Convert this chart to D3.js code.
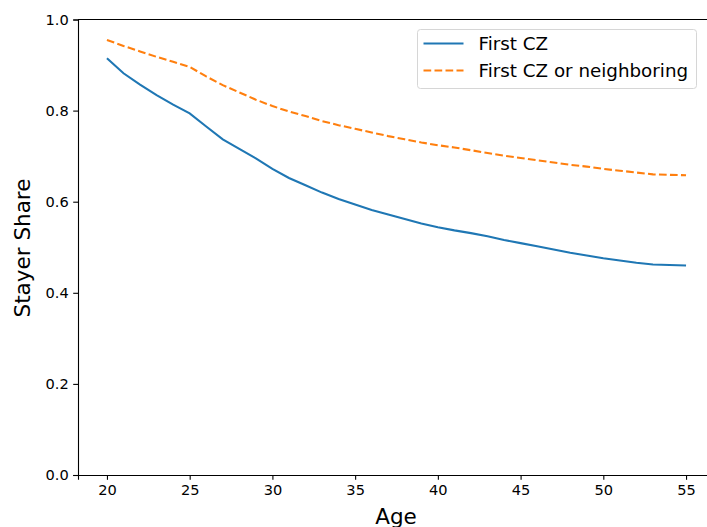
<!DOCTYPE html>
<html>
<head>
<meta charset="utf-8">
<script src="https://cdn.jsdelivr.net/npm/d3@7"></script>
<style>
  body { margin: 0; background: #fff; }
  text { font-family: "DejaVu Sans", sans-serif; fill: #000; }
</style>
</head>
<body>
<div id="chart"></div>
<script>
// data
let ages = d3.range(20, 56);
let firstCZ = [0.915, 0.882, 0.857, 0.834, 0.813, 0.794, 0.765, 0.737, 0.716, 0.695,
  0.672, 0.652, 0.636, 0.620, 0.606, 0.594, 0.582, 0.572, 0.562, 0.552,
  0.544, 0.537, 0.531, 0.524, 0.516, 0.509, 0.502, 0.495, 0.488, 0.482,
  0.476, 0.471, 0.466, 0.462, 0.461, 0.460];
let firstOrNeighbor = [0.955, 0.942, 0.930, 0.918, 0.907, 0.896, 0.875, 0.856, 0.840, 0.824,
  0.810, 0.798, 0.788, 0.777, 0.768, 0.760, 0.752, 0.744, 0.737, 0.730,
  0.724, 0.719, 0.713, 0.707, 0.701, 0.696, 0.691, 0.686, 0.681, 0.677,
  0.672, 0.668, 0.664, 0.660, 0.659, 0.658];
let xTicks = [20, 25, 30, 35, 40, 45, 50, 55];
let yTicks = [0.0, 0.2, 0.4, 0.6, 0.8, 1.0];
let seriesNames = ["First CZ", "First CZ or neighboring"];

// set the dimensions and margins of the graph
let margin = { top: 19.5, left: 78 },
  width = 715 - margin.left,
  height = 475 - margin.top;

let svg = d3
  .select("#chart")
  .append("svg")
  .attr("width", 707)
  .attr("height", 527)
  .append("g")
  .attr("transform", "translate(" + margin.left + "," + margin.top + ")");

let x = d3.scaleLinear().domain([18.25, 56.75]).range([0, width]);
let y = d3.scaleLinear().domain([0, 1]).range([height, 0]);

// axes
let xAxis = svg
  .append("g")
  .attr("transform", "translate(0," + height + ")")
  .call(d3.axisBottom(x).tickValues(xTicks).tickSize(4.8).tickPadding(4.5).tickFormat(d3.format("d")));
let yAxis = svg
  .append("g")
  .call(d3.axisLeft(y).tickValues(yTicks).tickSize(4.8).tickPadding(4.5).tickFormat(d3.format(".1f")));

[xAxis, yAxis].forEach(function (a) {
  a.selectAll("text").style("font-size", "14.6px").style("font-family", "DejaVu Sans");
  a.selectAll("line").attr("stroke", "#000").attr("stroke-width", 1.1);
  a.select(".domain").attr("stroke", "#000").attr("stroke-width", 1.1);
});

// top spine
svg.append("line")
  .attr("x1", 0).attr("x2", width)
  .attr("y1", 0).attr("y2", 0)
  .attr("stroke", "#000").attr("stroke-width", 1.1);

// axis labels
svg.append("text")
  .attr("x", 396 - margin.left)
  .attr("y", 524 - margin.top)
  .style("text-anchor", "middle")
  .style("font-size", "21.5px")
  .text("Age");

svg.append("text")
  .attr("transform", "translate(" + (30 - margin.left) + "," + (248 - margin.top) + ") rotate(-90)")
  .style("text-anchor", "middle")
  .style("font-size", "21.5px")
  .text("Stayer Share");

// lines
let line = d3.line()
  .x(function (d, i) { return x(ages[i]); })
  .y(function (d) { return y(d); });

svg.append("path")
  .datum(firstCZ)
  .attr("fill", "none")
  .attr("stroke", "#1f77b4")
  .attr("stroke-width", 2.1)
  .attr("d", line);

svg.append("path")
  .datum(firstOrNeighbor)
  .attr("fill", "none")
  .attr("stroke", "#ff7f0e")
  .attr("stroke-width", 2.1)
  .attr("stroke-dasharray", "7.7,3.3")
  .attr("d", line);

// legend
let legend = svg.append("g")
  .attr("transform", "translate(" + (417.5 - margin.left) + "," + (29.5 - margin.top) + ")");

legend.append("rect")
  .attr("width", 279)
  .attr("height", 59)
  .attr("rx", 3)
  .attr("fill", "#fff")
  .attr("fill-opacity", 0.8)
  .attr("stroke", "#d6d6d6");

let colors = ["#1f77b4", "#ff7f0e"];
seriesNames.forEach(function (name, i) {
  let yy = 14 + i * 27;
  legend.append("line")
    .attr("x1", 6).attr("x2", 46)
    .attr("y1", yy).attr("y2", yy)
    .attr("stroke", colors[i])
    .attr("stroke-width", 2.1)
    .attr("stroke-dasharray", i === 1 ? "7.7,3.3" : null);
  legend.append("text")
    .attr("x", 61)
    .attr("y", yy + 6.5)
    .style("font-size", "18.3px")
    .text(name);
});
</script>
</body>
</html>
